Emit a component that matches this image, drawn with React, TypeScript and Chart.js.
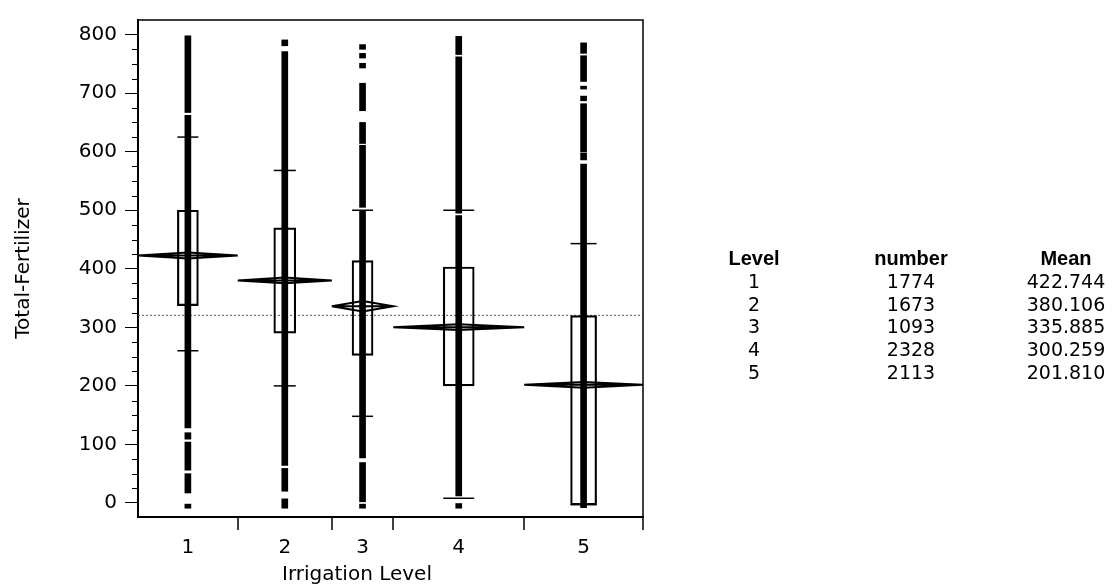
import React, { useEffect, useRef } from 'react';
import { Chart, registerables } from 'chart.js';

Chart.register(...registerables);

// ---------------- data ----------------
const LEVELS = ['1', '2', '3', '4', '5'];
const COUNTS = [1774, 1673, 1093, 2328, 2113];
const MEANS = [422.744, 380.106, 335.885, 300.259, 201.81];
const MEAN_CI = [5, 5, 9, 5, 5];
const Q25 = [337, 290, 252, 200, -3];
const Q75 = [500, 470, 414, 403, 320];
const P10 = [260, 200, 148, 8, -3];
const P90 = [625, 568, 500, 500, 443];

// vertical runs of observations in each level: [low, high]
const RUNS_1 = [[-9, -2], [17, 50], [56, 104], [109, 120], [128, 662], [667, 798]];
const RUNS_2 = [[-9, 7], [20, 59], [64, 771], [781, 791]];
const RUNS_3 = [[-9, -2], [2, 69], [77, 500], [505, 611], [614, 650], [670, 717], [743, 751], [760, 768], [775, 783]];
const RUNS_4 = [[-9, -1], [12, 491], [495, 762], [766, 797]];
const RUNS_5 = [[-8, 579], [586, 598], [600, 682], [687, 695], [707, 712], [720, 764], [768, 786]];
const RUNS = [RUNS_1, RUNS_2, RUNS_3, RUNS_4, RUNS_5];

const Y_TICKS = [0, 100, 200, 300, 400, 500, 600, 700, 800];
const Y_MINOR_STEP = 25;
const Y_MIN = -24;
const Y_MAX = 825;

const X_TITLE = 'Irrigation Level';
const Y_TITLE = 'Total-Fertilizer';
const TABLE_HEAD = ['Level', 'number', 'Mean'];

// ---------------- styles ----------------
const BOX_WIDTHS = [21, 22, 21, 31, 26];
const FONT = '"DejaVu Sans", sans-serif';

// ---------------- derived ----------------
const TOTAL = COUNTS.reduce((a, b) => a + b, 0);
const BOUNDS: number[] = [0];
COUNTS.forEach((c, i) => BOUNDS.push(BOUNDS[i] + c));
const CENTERS = COUNTS.map((c, i) => BOUNDS[i] + c / 2);
const GRAND_MEAN = MEANS.reduce((s, m, i) => s + m * COUNTS[i], 0) / TOTAL;

const Y_MINOR: number[] = [];
Y_TICKS.forEach((t) => {
  for (let v = t + Y_MINOR_STEP; v < t + 100; v += Y_MINOR_STEP) if (v < Y_MAX) Y_MINOR.push(v);
});

const framePlugin = {
  id: 'frame',
  afterDraw(chart: any) {
    const { ctx, chartArea: a, scales } = chart;
    const x = scales.x;
    const y = scales.y;
    ctx.save();
    ctx.strokeStyle = '#000';
    ctx.lineWidth = 1.5;
    ctx.beginPath();
    ctx.moveTo(a.left, a.top);
    ctx.lineTo(a.right, a.top);
    ctx.lineTo(a.right, a.bottom);
    ctx.stroke();
    BOUNDS.slice(1).forEach((b) => {
      const px = Math.round(x.getPixelForValue(b));
      ctx.beginPath();
      ctx.moveTo(px, a.bottom);
      ctx.lineTo(px, a.bottom + 13);
      ctx.stroke();
    });
    ctx.lineWidth = 1;
    Y_MINOR.forEach((v) => {
      const py = Math.round(y.getPixelForValue(v)) + 0.5;
      ctx.beginPath();
      ctx.moveTo(a.left - 6, py);
      ctx.lineTo(a.left, py);
      ctx.stroke();
    });
    // x axis title
    ctx.fillStyle = '#000';
    ctx.font = '20px ' + FONT;
    ctx.textAlign = 'center';
    ctx.textBaseline = 'alphabetic';
    ctx.fillText(X_TITLE, 357, 580);
    ctx.restore();
  },
};

function ChartView() {
  const ref = useRef<HTMLCanvasElement | null>(null);
  useEffect(() => {
    if (!ref.current) return;

    const runData: any[] = [];
    RUNS.forEach((runs, i) => runs.forEach(([lo, hi]) => runData.push({ x: CENTERS[i], y: [lo, hi] })));

    const boxSets = COUNTS.map((_, i) => ({
      type: 'bar' as const,
      data: [{ x: CENTERS[i], y: [Q25[i], Q75[i]] }],
      barThickness: BOX_WIDTHS[i],
      backgroundColor: 'rgba(0,0,0,0)',
      borderColor: '#000',
      borderWidth: 1.5,
      borderSkipped: false,
      grouped: false,
      order: 4,
    }));

    const pctData: any[] = [];
    COUNTS.forEach((_, i) => {
      pctData.push({ x: CENTERS[i], y: P90[i] });
      pctData.push({ x: CENTERS[i], y: P10[i] });
    });

    const diamondData: any[] = [];
    COUNTS.forEach((_, i) => {
      const L = BOUNDS[i];
      const R = BOUNDS[i + 1];
      const c = CENTERS[i];
      const m = MEANS[i];
      const ci = MEAN_CI[i];
      diamondData.push(
        { x: L, y: m }, { x: c, y: m + ci }, { x: R, y: m }, { x: c, y: m - ci }, { x: L, y: m },
        { x: R, y: m }, { x: R, y: null }
      );
    });

    const chart = new Chart(ref.current, {
      type: 'scatter',
      data: {
        datasets: [
          {
            type: 'line',
            data: [{ x: 0, y: GRAND_MEAN }, { x: TOTAL, y: GRAND_MEAN }],
            borderColor: '#555',
            borderWidth: 1,
            borderDash: [2, 2],
            pointRadius: 0,
            order: 6,
          },
          {
            type: 'bar',
            data: runData,
            barThickness: 6,
            backgroundColor: '#000',
            borderWidth: 0,
            grouped: false,
            order: 5,
          },
          ...boxSets,
          {
            type: 'scatter',
            data: pctData,
            pointStyle: 'line',
            pointRadius: (c: any) => BOX_WIDTHS[c.dataIndex >> 1] / 2,
            borderColor: '#000',
            pointBorderColor: '#000',
            borderWidth: 1.5,
            pointBorderWidth: 1.5,
            order: 3,
          },
          {
            type: 'line',
            data: diamondData,
            borderColor: '#000',
            borderWidth: 2,
            pointRadius: 0,
            spanGaps: false,
            tension: 0,
            order: 1,
          },
        ] as any,
      },
      options: {
        responsive: false,
        animation: false,
        events: [],
        layout: { padding: { top: 13, right: 469, left: 0, bottom: 0 } },
        plugins: { legend: { display: false }, tooltip: { enabled: false } },
        scales: {
          x: {
            type: 'linear',
            min: 0,
            max: TOTAL,
            offset: false,
            grid: { display: false, drawTicks: false, tickLength: 0 },
            border: { display: true, color: '#000', width: 2 },
            afterBuildTicks: (s: any) => {
              s.ticks = CENTERS.map((v) => ({ value: v }));
            },
            afterFit: (s: any) => {
              s.height = 67;
            },
            ticks: {
              autoSkip: false,
              maxRotation: 0,
              padding: 19,
              color: '#000',
              font: { family: FONT, size: 20 },
              callback: (_v: any, i: number) => LEVELS[i],
            },
            title: { display: false },
          },
          y: {
            type: 'linear',
            min: Y_MIN,
            max: Y_MAX,
            offset: false,
            grid: { display: true, drawOnChartArea: false, drawTicks: true, tickLength: 13, color: '#000', lineWidth: 1 },
            border: { display: true, color: '#000', width: 2 },
            afterBuildTicks: (s: any) => {
              s.ticks = Y_TICKS.map((v) => ({ value: v }));
            },
            afterFit: (s: any) => {
              s.width = 138;
            },
            ticks: {
              padding: 8,
              color: '#000',
              font: { family: FONT, size: 20 },
              callback: (v: any) => String(v),
            },
            title: {
              display: true,
              text: Y_TITLE,
              color: '#000',
              font: { family: FONT, size: 20 },
              padding: { top: 12, bottom: 0 },
            },
          },
        },
      } as any,
      plugins: [framePlugin],
    });
    return () => chart.destroy();
  }, []);
  return <canvas ref={ref} width={1112} height={584} style={{ width: 1112, height: 584, display: 'block' }} />;
}

const COL_X = [754, 911, 1066];
const HEAD_Y = 258;
const ROW_Y0 = 281;
const ROW_DY = 22.7;

function Cell(props: { x: number; y: number; text: string; bold?: boolean }) {
  return (
    <div
      style={{
        position: 'absolute',
        left: props.x,
        top: props.y,
        transform: 'translate(-50%, -50%)',
        whiteSpace: 'nowrap',
        fontFamily: props.bold ? '"Liberation Sans", Arial, sans-serif' : FONT,
        fontWeight: props.bold ? 700 : 400,
        fontSize: props.bold ? 20 : 19,
        lineHeight: '20px',
        color: '#000',
      }}
    >
      {props.text}
    </div>
  );
}

export default function App() {
  return (
    <div style={{ position: 'absolute', left: 0, top: 0, width: 1112, height: 584, background: '#fff', overflow: 'hidden' }}>
      <ChartView />
      {TABLE_HEAD.map((h, j) => (
        <Cell key={'h' + j} x={COL_X[j]} y={HEAD_Y} text={h} bold />
      ))}
      {LEVELS.map((lv, i) => (
        <React.Fragment key={lv}>
          <Cell x={COL_X[0]} y={ROW_Y0 + i * ROW_DY} text={lv} />
          <Cell x={COL_X[1]} y={ROW_Y0 + i * ROW_DY} text={String(COUNTS[i])} />
          <Cell x={COL_X[2]} y={ROW_Y0 + i * ROW_DY} text={MEANS[i].toFixed(3)} />
        </React.Fragment>
      ))}
    </div>
  );
}
